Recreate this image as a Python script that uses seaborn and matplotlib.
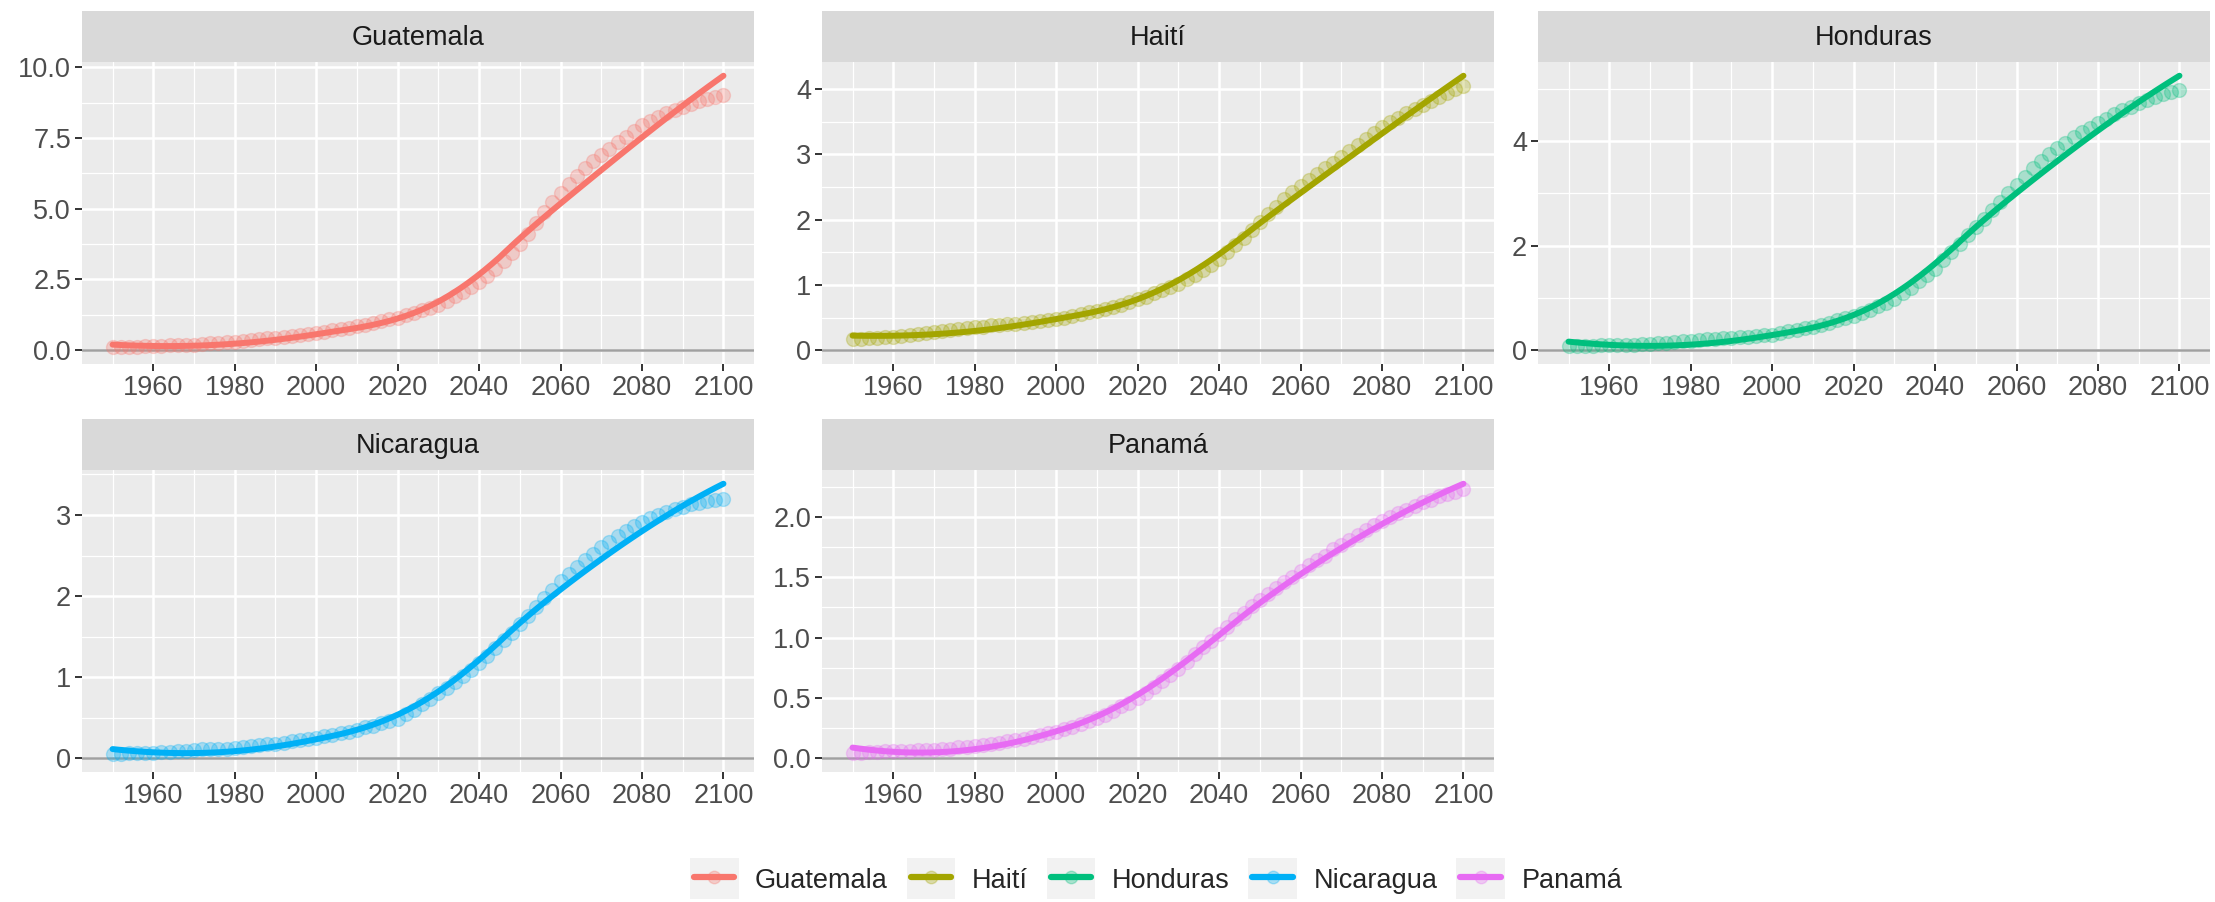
import numpy as np
import pandas as pd
import matplotlib
matplotlib.use("Agg")
import matplotlib.pyplot as plt
import seaborn as sns
from matplotlib.lines import Line2D
from matplotlib.patches import Rectangle
from matplotlib.legend_handler import HandlerLine2D
from matplotlib.ticker import FormatStrFormatter, FixedLocator

# ── Data (values every 2 years, 1950–2100) ─────────────────────────────────────
years = list(range(1950, 2101, 2))

countries = ["Guatemala", "Haití", "Honduras", "Nicaragua", "Panamá"]
colors = ["#F8766D", "#A3A500", "#00BF7D", "#00B0F6", "#E76BF3"]

guatemala = [0.10, 0.11, 0.12, 0.13, 0.14,
             0.15, 0.16, 0.17, 0.18, 0.19,
             0.20, 0.22, 0.24, 0.26, 0.28,
             0.30, 0.33, 0.36, 0.39, 0.42,
             0.45, 0.48, 0.51, 0.54, 0.57,
             0.60, 0.65, 0.70, 0.75, 0.80,
             0.85, 0.91, 0.97, 1.03, 1.09,
             1.15, 1.23, 1.32, 1.41, 1.50,
             1.60, 1.74, 1.90, 2.06, 2.23,
             2.40, 2.63, 2.88, 3.15, 3.43,
             3.75, 4.12, 4.50, 4.90, 5.25,
             5.55, 5.86, 6.16, 6.44, 6.68,
             6.90, 7.12, 7.34, 7.55, 7.76,
             7.95, 8.10, 8.24, 8.37, 8.49,
             8.60, 8.70, 8.80, 8.88, 8.95,
             9.00]

haiti = [0.18, 0.18, 0.19, 0.19, 0.20,
         0.20, 0.22, 0.23, 0.25, 0.27,
         0.28, 0.30, 0.31, 0.33, 0.34,
         0.35, 0.36, 0.38, 0.39, 0.40,
         0.41, 0.42, 0.44, 0.45, 0.47,
         0.48, 0.50, 0.53, 0.55, 0.58,
         0.60, 0.63, 0.67, 0.70, 0.74,
         0.78, 0.82, 0.87, 0.92, 0.97,
         1.02, 1.09, 1.16, 1.23, 1.31,
         1.40, 1.50, 1.61, 1.72, 1.84,
         1.96, 2.08, 2.20, 2.31, 2.42,
         2.52, 2.61, 2.70, 2.79, 2.87,
         2.96, 3.05, 3.14, 3.24, 3.33,
         3.42, 3.49, 3.56, 3.63, 3.70,
         3.76, 3.82, 3.88, 3.94, 4.00,
         4.05]

honduras = [0.08, 0.08, 0.09, 0.09, 0.10,
            0.10, 0.10, 0.11, 0.11, 0.12,
            0.12, 0.13, 0.14, 0.16, 0.17,
            0.18, 0.19, 0.21, 0.22, 0.23,
            0.24, 0.25, 0.26, 0.28, 0.29,
            0.30, 0.33, 0.36, 0.39, 0.42,
            0.45, 0.49, 0.53, 0.57, 0.61,
            0.65, 0.71, 0.77, 0.84, 0.91,
            0.98, 1.09, 1.20, 1.32, 1.44,
            1.56, 1.72, 1.88, 2.04, 2.20,
            2.36, 2.52, 2.68, 2.84, 3.00,
            3.16, 3.32, 3.48, 3.62, 3.75,
            3.87, 3.97, 4.07, 4.17, 4.26,
            4.35, 4.43, 4.51, 4.59, 4.66,
            4.73, 4.79, 4.85, 4.90, 4.94,
            4.97]

nicaragua = [0.05, 0.05, 0.06, 0.06, 0.07,
             0.07, 0.08, 0.08, 0.09, 0.09,
             0.10, 0.11, 0.11, 0.12, 0.12,
             0.13, 0.14, 0.15, 0.16, 0.17,
             0.18, 0.19, 0.21, 0.22, 0.24,
             0.25, 0.27, 0.29, 0.31, 0.33,
             0.35, 0.38, 0.40, 0.43, 0.46,
             0.49, 0.54, 0.60, 0.67, 0.73,
             0.80, 0.87, 0.94, 1.02, 1.09,
             1.17, 1.26, 1.36, 1.46, 1.55,
             1.65, 1.76, 1.87, 1.97, 2.08,
             2.18, 2.27, 2.36, 2.44, 2.52,
             2.60, 2.67, 2.74, 2.80, 2.86,
             2.91, 2.96, 3.00, 3.04, 3.07,
             3.10, 3.13, 3.15, 3.17, 3.19,
             3.20]

panama = [0.04, 0.04, 0.05, 0.05, 0.06,
          0.06, 0.06, 0.06, 0.07, 0.07,
          0.07, 0.08, 0.08, 0.09, 0.09,
          0.10, 0.11, 0.12, 0.13, 0.14,
          0.15, 0.16, 0.18, 0.19, 0.21,
          0.22, 0.24, 0.26, 0.28, 0.31,
          0.33, 0.36, 0.39, 0.43, 0.46,
          0.50, 0.54, 0.59, 0.64, 0.69,
          0.74, 0.80, 0.86, 0.92, 0.97,
          1.03, 1.09, 1.15, 1.20, 1.26,
          1.31, 1.36, 1.41, 1.46, 1.50,
          1.55, 1.60, 1.64, 1.68, 1.73,
          1.77, 1.81, 1.85, 1.89, 1.93,
          1.97, 2.00, 2.03, 2.06, 2.09,
          2.12, 2.14, 2.17, 2.19, 2.21,
          2.23]

series = [guatemala, haiti, honduras, nicaragua, panama]

# y breaks per facet (free y scales)
ybreaks = [[0, 2.5, 5, 7.5, 10], [0, 1, 2, 3, 4], [0, 2, 4], [0, 1, 2, 3], [0, 0.5, 1, 1.5, 2]]
yfmt = ["%.1f", "%d", "%d", "%d", "%.1f"]
xbreaks = [1960, 1980, 2000, 2020, 2040, 2060, 2080, 2100]
xminor = [1950, 1970, 1990, 2010, 2030, 2050, 2070, 2090]

FS = 19.5


# ── loess (span 0.75, degree 2, tricube), like geom_smooth's default ──────────
def loess(x, y, xs, span=0.75):
    x = np.asarray(x, float)
    y = np.asarray(y, float)
    q = int(np.floor(len(x) * span))
    out = []
    for x0 in xs:
        d = np.abs(x - x0)
        h = np.sort(d)[q - 1]
        w = np.clip(1 - (d / h) ** 3, 0, None) ** 3
        coef = np.polyfit(x - x0, y, 2, w=np.sqrt(w))
        out.append(coef[-1])
    return np.array(out)


class KeyHandler(HandlerLine2D):
    # legend key with the grey ggplot-style background box
    def create_artists(self, legend, orig_handle, xdescent, ydescent,
                       width, height, fontsize, trans):
        arts = super().create_artists(legend, orig_handle, xdescent, ydescent,
                                      width, height, fontsize, trans)
        bg = Rectangle((-xdescent - 0.1 * width, -ydescent - 0.35 * height),
                       width * 1.2, height * 1.7, facecolor="#F2F2F2",
                       edgecolor="none", transform=trans, zorder=0)
        return [bg] + arts


sns.set_theme(style="darkgrid")
plt.rcParams["font.family"] = ["Liberation Sans", "DejaVu Sans"]

W, H = 2215, 902
fig = plt.figure(figsize=(W / 100, H / 100), dpi=100)

col_left = [82, 822, 1538]
row_top = [11, 419]
PW, PH, SH = 672, 302, 51

for i, (name, vals, col) in enumerate(zip(countries, series, colors)):
    r, c = divmod(i, 3)
    left, top = col_left[c], row_top[r]
    ax = fig.add_axes([left / W, 1 - (top + SH + PH) / H, PW / W, PH / H])
    sax = fig.add_axes([left / W, 1 - (top + SH) / H, PW / W, SH / H])

    df = pd.DataFrame({"year": years, "value": vals})
    xs = np.linspace(1950, 2100, 80)
    fit = pd.DataFrame({"year": xs, "value": loess(years, vals, xs)})

    ax.set_facecolor("#EBEBEB")
    ax.axhline(0, color="#A0A0A0", lw=1.8, zorder=1)
    sns.scatterplot(data=df, x="year", y="value", ax=ax, color=col, alpha=0.28,
                    s=100, edgecolor=col, linewidth=1.0, zorder=2, legend=False)
    sns.lineplot(data=fit, x="year", y="value", ax=ax, color=col, lw=4.3,
                 zorder=3, legend=False)

    lo = min(0, min(vals), fit["value"].min())
    hi = max(max(vals), fit["value"].max())
    pad = (hi - lo) * 0.05
    ax.set_ylim(lo - pad, hi + pad)
    ax.set_xlim(1942.5, 2107.5)

    yb = ybreaks[i]
    step = yb[1] - yb[0]
    ymin = [b + step / 2 for b in [yb[0] - step] + yb]
    ax.yaxis.set_major_locator(FixedLocator(yb))
    ax.yaxis.set_minor_locator(FixedLocator(ymin))
    ax.yaxis.set_major_formatter(FormatStrFormatter(yfmt[i]))
    ax.xaxis.set_major_locator(FixedLocator(xbreaks))
    ax.xaxis.set_minor_locator(FixedLocator(xminor))

    ax.grid(which="major", color="white", lw=1.8)
    ax.grid(which="minor", color="white", lw=0.9)
    ax.set_axisbelow(True)
    for s in ax.spines.values():
        s.set_visible(False)
    ax.tick_params(which="major", length=5, width=1.4, color="#333333",
                   labelcolor="#4D4D4D", labelsize=FS, pad=3.0,
                   bottom=True, left=True)
    ax.tick_params(which="minor", length=0)
    ax.set_xlabel("")
    ax.set_ylabel("")

    sax.set_facecolor("#D9D9D9")
    sax.set_xticks([])
    sax.set_yticks([])
    for s in sax.spines.values():
        s.set_visible(False)
    sax.text(0.5, 0.47, name, ha="center", va="center", fontsize=FS,
             color="#1A1A1A", transform=sax.transAxes)

handles = []
for c in colors:
    h = Line2D([0], [0], color=c, lw=4.5, marker="o", markersize=9)
    h.set_markerfacecolor(matplotlib.colors.to_rgba(c, 0.3))
    h.set_markeredgecolor(matplotlib.colors.to_rgba(c, 0.3))
    handles.append(h)

fig.legend(handles, countries, loc="center", ncol=5, frameon=False,
           bbox_to_anchor=(1158 / W, 1 - 880 / H), fontsize=FS,
           handlelength=1.5, handleheight=1.0, handletextpad=0.75,
           columnspacing=0.85, numpoints=1,
           handler_map={Line2D: KeyHandler()})

fig.savefig("out.png", dpi=100, facecolor="white")
